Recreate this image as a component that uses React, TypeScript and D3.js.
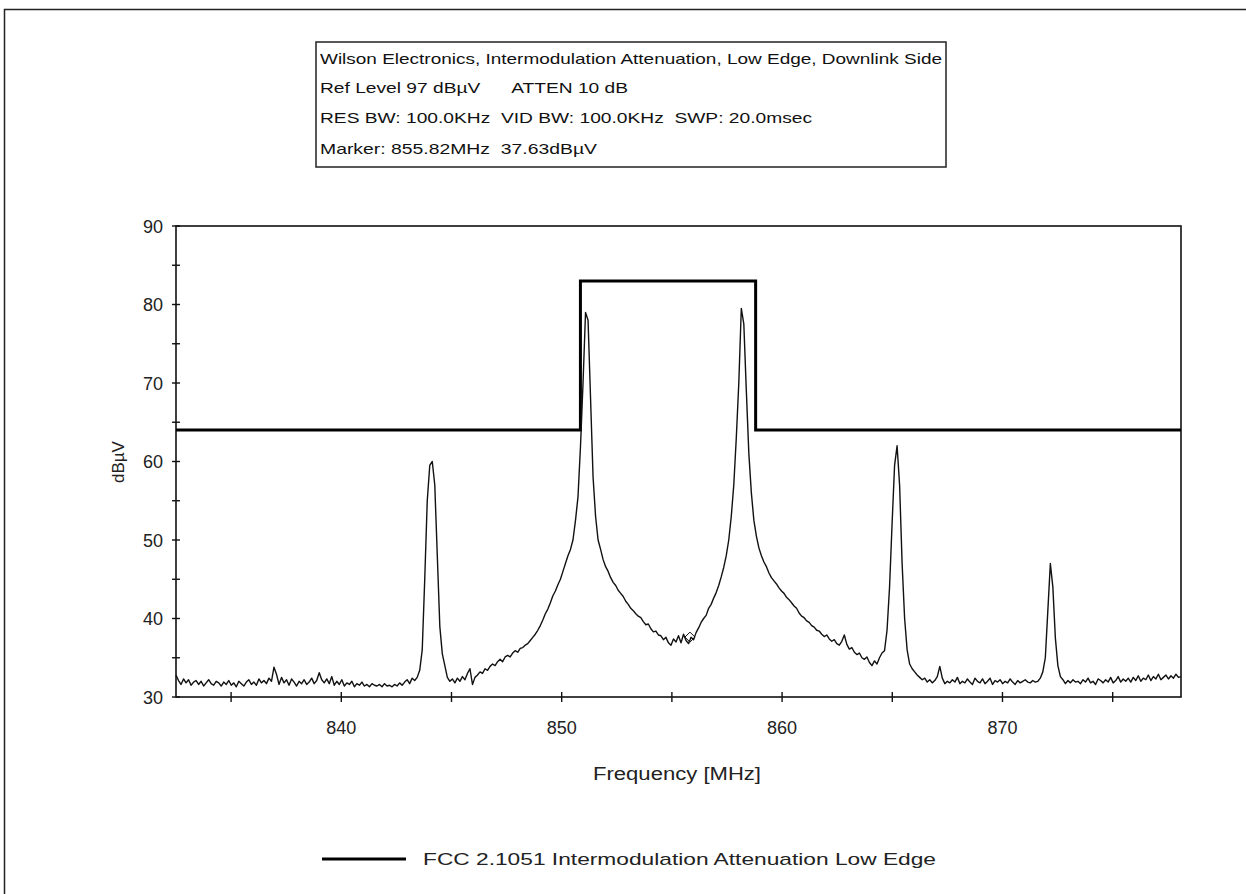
import React from "react";
import * as d3 from "d3";

// Spectrum analyzer sweep (MHz) and measured trace (dBµV), 401 sweep points
const SWEEP_START = 832.5;
const SWEEP_STOP = 878.1;

const traceLevels: number[] = [
  32.8, 32.1, 31.6, 32.3, 31.8, 32.2, 31.5, 31.9, 32.1, 31.6, 32.0, 31.4, 31.8, 32.2, 31.7, 31.5, 32.0, 31.8, 31.4, 31.9,
  31.6, 32.1, 31.5, 31.8, 31.3, 32.0, 31.7, 31.4, 31.9, 32.2, 31.6, 31.9, 31.5, 32.3, 31.8, 32.1, 31.7, 32.4, 32.0, 33.8,
  32.9, 31.6, 32.5, 31.8, 32.2, 31.5, 32.3, 31.9, 31.4, 32.0, 31.7, 32.2, 31.6, 31.9, 32.4, 31.7, 32.1, 33.1, 32.2, 31.8,
  32.3, 31.7, 32.6, 31.5, 32.0, 31.6, 32.2, 31.4, 31.8, 31.6, 32.0, 31.3, 31.7, 31.5, 31.9, 31.4, 31.6, 31.3, 31.7, 31.5,
  31.4, 31.6, 31.3, 31.7, 31.4, 31.5, 31.3, 31.6, 31.4, 31.8, 31.5, 31.9, 32.2, 31.7, 32.4, 32.1, 32.5, 33.4, 36.0, 45.0,
  55.0, 59.5, 60.0, 57.0, 48.0, 39.0, 35.5, 34.0, 32.5, 32.0, 32.3, 31.8, 32.4, 32.0, 32.6, 32.2, 33.0, 33.6, 31.6, 32.5,
  32.8, 33.2, 33.0, 33.6, 33.4, 33.9, 34.2, 34.0, 34.5, 34.8, 34.5, 35.1, 35.3, 35.1, 35.6, 35.9, 35.7, 36.2, 36.3, 36.6,
  36.8, 37.2, 37.6, 38.0, 38.5, 39.1, 39.8, 40.6, 41.2, 42.0, 42.9, 43.5, 44.3, 45.0, 46.0, 47.0, 48.0, 48.8, 50.0, 52.5,
  55.5, 62.0, 70.0, 79.0, 78.0, 68.0, 58.0, 53.0, 50.0, 48.8, 47.5, 46.6, 46.0, 45.2, 44.6, 44.2, 43.6, 43.2, 42.8, 42.2,
  41.8, 41.3, 41.0, 40.6, 40.3, 40.1, 39.6, 39.2, 39.3, 38.7, 38.3, 38.4, 37.9, 37.8, 37.3, 37.6, 36.9, 36.6, 37.4, 37.0,
  37.8, 36.9, 38.0, 37.2, 36.8, 37.6, 37.3, 38.2, 38.8, 39.5, 40.0, 40.4, 41.3, 41.8, 42.6, 43.3, 44.2, 45.3, 46.5, 48.0,
  50.0, 53.0, 57.0, 63.0, 70.0, 79.5, 77.5, 69.0, 61.0, 56.0, 52.5, 50.5, 49.0, 48.0, 47.2, 46.6, 45.8, 45.2, 44.8, 44.4,
  43.9, 43.5, 43.2, 42.7, 42.4, 42.0, 41.6, 41.3, 40.7, 40.3, 40.1, 39.7, 39.5, 39.1, 38.9, 38.5, 38.4, 38.0, 37.7, 37.9,
  37.4, 37.1, 37.3, 36.8, 36.6, 37.1, 37.9, 36.7, 36.1, 36.3, 35.7, 35.4, 35.6, 35.0, 34.8, 35.1, 34.4, 34.0, 34.6, 34.2,
  35.0, 35.6, 35.9, 38.5, 44.0, 52.0, 59.5, 62.0, 57.0, 47.0, 40.0, 36.0, 34.2, 33.6, 33.2, 32.8, 32.5, 32.2, 32.4, 31.9,
  32.2, 31.8, 32.1, 32.6, 33.9, 32.4, 31.7, 32.0, 31.8, 32.2, 31.9, 32.5, 31.7, 32.0, 31.8, 32.3, 31.9, 31.6, 32.4, 32.0,
  31.8, 32.3, 31.7, 32.0, 32.4, 31.6, 32.1, 31.9, 32.2, 31.7, 32.0, 31.8, 32.3, 31.9, 31.6, 32.1, 31.8, 32.0, 32.2, 31.9,
  31.8, 32.1, 31.9, 32.0, 32.4, 33.2, 35.0, 41.0, 47.0, 44.0, 37.5, 34.0, 32.6, 32.2, 31.7, 32.1, 31.8, 32.2, 31.9, 32.0,
  31.7, 32.2, 31.9, 32.4, 31.8, 32.0, 31.6, 32.3, 32.1, 31.8, 32.2, 31.9, 32.5, 31.8, 32.1, 32.6, 31.9, 32.3, 32.0, 32.4,
  31.9, 32.5, 32.1, 32.7, 32.0, 32.4, 32.2, 32.8, 32.1, 32.6, 32.3, 32.9, 32.2, 32.5, 32.8, 32.3, 32.7, 32.4, 32.9, 32.5,
  32.6,
];

// FCC limit mask: level holds from each breakpoint to the next
const limitFreqs = [832.5, 850.85, 858.8, 878.1];
const limitLevels = [64, 83, 64, 64];

const xMajorTicks = [840, 850, 860, 870];
const xMinorTicks = [835, 845, 855, 865, 875];
const yMajorTicks = [30, 40, 50, 60, 70, 80, 90];
const yMinorTicks = [35, 45, 55, 65, 75, 85];

const markerFreq = 855.82;
const markerLevel = 37.63;

const headerLines = [
  "Wilson Electronics, Intermodulation Attenuation, Low Edge, Downlink Side",
  "Ref Level 97 dBµV      ATTEN 10 dB",
  "RES BW: 100.0KHz  VID BW: 100.0KHz  SWP: 20.0msec",
  "Marker: 855.82MHz  37.63dBµV",
];

const legendLabel = "FCC 2.1051 Intermodulation Attenuation Low Edge";
const xTitle = "Frequency [MHz]";
const yTitle = "dBµV";

const W = 1246;
const H = 894;
const plot = { left: 176, right: 1181, top: 226, bottom: 697 };
const FONT = "'Liberation Sans', Arial, sans-serif";

// header lines: rendered widths and baselines
const headerWidths = [622, 308, 492, 277];
const headerBaselines = [64, 93, 123, 154];

export default function App() {
  const x = d3.scaleLinear().domain([SWEEP_START, SWEEP_STOP]).range([plot.left, plot.right]);
  const y = d3.scaleLinear().domain([30, 90]).range([plot.bottom, plot.top]);

  const step = (SWEEP_STOP - SWEEP_START) / (traceLevels.length - 1);
  const trace = traceLevels.map((v, i) => [SWEEP_START + i * step, v] as [number, number]);

  const traceLine = d3
    .line<[number, number]>()
    .x((d) => x(d[0]))
    .y((d) => y(d[1]))
    .curve(d3.curveLinear);

  const limitLine = d3
    .line<[number, number]>()
    .x((d) => x(d[0]))
    .y((d) => y(d[1]))
    .curve(d3.curveStepAfter);
  const limitPts = limitFreqs.map((f, i) => [f, limitLevels[i]] as [number, number]);

  const mx = x(markerFreq);
  const my = y(markerLevel);
  const md = 5;

  return (
    <div style={{ position: "absolute", left: 0, top: 0 }}>
      <svg width={W} height={H} style={{ display: "block", background: "#fff" }} fontFamily={FONT}>
        {/* outer frame */}
        <rect x={4.5} y={9.5} width={1300} height={1000} fill="none" stroke="#222" strokeWidth={1.5} />

        {/* header box */}
        <rect x={316} y={42} width={630} height={125} fill="#fff" stroke="#222" strokeWidth={1.5} />
        {headerLines.map((s, li) => (
          <text
            key={`h${li}`}
            x={320}
            y={headerBaselines[li]}
            fontSize={15}
            fill="#111"
            textLength={headerWidths[li]}
            lengthAdjust="spacingAndGlyphs"
            xmlSpace="preserve"
            style={{ whiteSpace: "pre" }}
          >
            {s}
          </text>
        ))}

        {/* plot frame */}
        <rect
          x={plot.left}
          y={plot.top}
          width={plot.right - plot.left}
          height={plot.bottom - plot.top}
          fill="none"
          stroke="#111"
          strokeWidth={1.6}
        />

        {/* y axis ticks */}
        {yMajorTicks.concat(yMinorTicks).map((t) => (
          <line key={`yt${t}`} x1={plot.left - 4} x2={plot.left + 4} y1={y(t)} y2={y(t)} stroke="#111" strokeWidth={1.4} />
        ))}
        {yMajorTicks.map((t) => (
          <text key={`yl${t}`} x={163} y={y(t) + 6.5} fontSize={18} textAnchor="end" fill="#222">
            {t}
          </text>
        ))}

        {/* x axis ticks */}
        {xMajorTicks.concat(xMinorTicks).map((t) => (
          <line key={`xt${t}`} x1={x(t)} x2={x(t)} y1={plot.bottom - 5} y2={plot.bottom + 5} stroke="#111" strokeWidth={1.4} />
        ))}
        {xMajorTicks.map((t) => (
          <text key={`xl${t}`} x={x(t)} y={734} fontSize={18} textAnchor="middle" fill="#222">
            {t}
          </text>
        ))}

        {/* axis titles */}
        <text x={677} y={780} fontSize={18} textAnchor="middle" fill="#222" textLength={168} lengthAdjust="spacingAndGlyphs">
          {xTitle}
        </text>
        <text transform={`translate(124, 462) rotate(-90)`} fontSize={17} textAnchor="middle" fill="#222">
          {yTitle}
        </text>

        {/* limit mask */}
        <path d={limitLine(limitPts) ?? ""} fill="none" stroke="#000" strokeWidth={3} />

        {/* measured trace */}
        <path d={traceLine(trace) ?? ""} fill="none" stroke="#111" strokeWidth={1.4} strokeLinejoin="round" />

        {/* marker */}
        <path
          d={`M${mx},${my - md}L${mx + md},${my}L${mx},${my + md}L${mx - md},${my}Z`}
          fill="none"
          stroke="#111"
          strokeWidth={1}
        />

        {/* legend */}
        <line x1={322} x2={406} y1={859} y2={859} stroke="#000" strokeWidth={3} />
        <text x={423} y={865} fontSize={17} fill="#222" textLength={513} lengthAdjust="spacingAndGlyphs">
          {legendLabel}
        </text>
      </svg>
    </div>
  );
}
